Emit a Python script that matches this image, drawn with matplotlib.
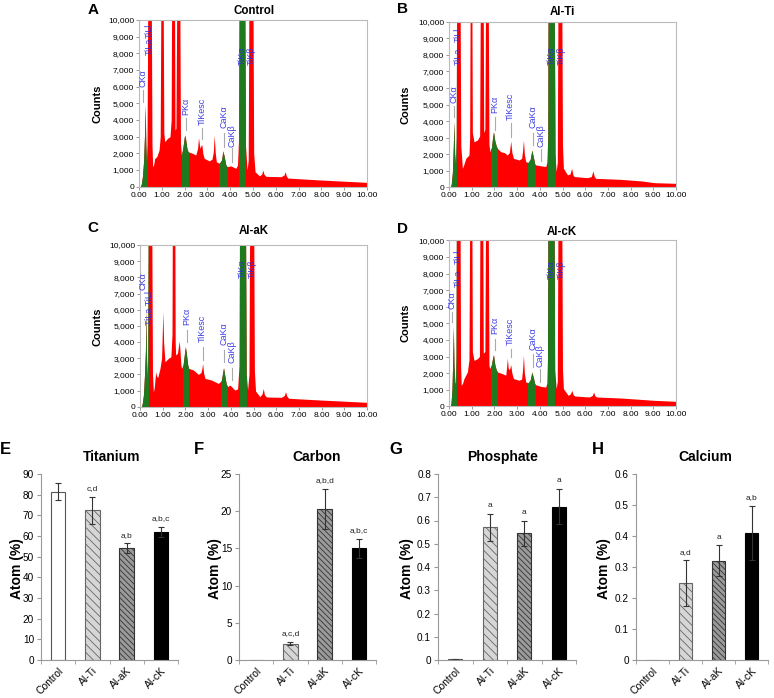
import numpy as np
import matplotlib
matplotlib.use("Agg")
import matplotlib.pyplot as plt
from matplotlib.patches import Rectangle
from matplotlib.ticker import FixedLocator, FuncFormatter

plt.rcParams['font.family'] = ['Liberation Sans', 'DejaVu Sans']
plt.rcParams['hatch.linewidth'] = 0.6

# ---------------- EDS spectra data (keV, counts) ----------------
spec_A = [(0.00,0),(0.05,0),(0.10,150),(0.15,600),(0.20,1500),(0.24,3000),(0.27,4900),(0.30,2500),(0.33,1300),
          (0.36,2500),(0.39,14000),(0.53,14000),(0.57,2500),(0.60,1200),(0.64,1300),(0.69,1700),(0.78,1800),
          (0.88,2200),(0.93,3000),(0.97,14000),(1.05,14000),(1.09,3200),(1.13,2700),(1.25,2900),(1.36,3000),
          (1.41,4000),(1.44,14000),(1.55,14000),(1.58,3400),(1.62,3500),(1.67,14000),(1.78,14000),(1.82,2600),
          (1.86,1900),(1.92,2300),(1.97,2800),(2.00,3100),(2.04,2900),(2.10,2300),(2.15,2100),(2.35,2000),
          (2.49,1900),(2.57,2300),(2.61,2950),(2.65,2500),(2.68,2300),(2.73,2500),(2.76,2500),(2.80,2000),
          (2.86,1700),(3.08,1550),(3.20,1650),(3.26,2100),(3.30,3100),(3.34,2100),(3.39,1500),(3.52,1400),
          (3.62,1600),(3.68,2150),(3.74,1800),(3.80,1350),(3.86,1200),(4.03,1250),(4.25,1100),(4.32,1300),
          (4.37,3000),(4.40,14000),(4.63,14000),(4.67,2500),(4.74,1000),(4.79,1600),(4.83,14000),(4.99,14000),
          (5.03,2000),(5.09,900),(5.28,650),(5.38,750),(5.43,1000),(5.48,750),(5.57,620),(6.23,600),(6.36,700),
          (6.41,900),(6.46,650),(6.52,520),(7.00,480),(7.99,400),(9.00,330),(10.00,260)]
spec_B = [(0.00,0),(0.06,0),(0.10,200),(0.15,900),(0.19,2500),(0.22,3960),(0.25,2000),(0.29,1300),(0.32,3000),
          (0.34,14000),(0.48,14000),(0.52,2500),(0.59,1150),(0.66,1400),(0.74,1750),(0.88,1950),(0.91,3000),
          (0.94,14000),(1.00,14000),(1.03,3300),(1.10,2750),(1.25,2850),(1.35,3100),(1.39,14000),(1.50,14000),
          (1.53,3300),(1.58,3500),(1.62,14000),(1.72,14000),(1.76,2600),(1.80,2150),(1.87,2400),(1.92,3000),
          (1.96,3360),(2.02,2800),(2.08,2500),(2.13,2350),(2.28,2150),(2.43,2100),(2.57,1950),(2.66,2100),
          (2.72,2800),(2.77,2100),(2.84,1750),(3.09,1650),(3.20,1750),(3.24,2200),(3.28,2850),(3.32,2000),
          (3.38,1550),(3.49,1500),(3.58,1700),(3.65,2250),(3.72,1800),(3.78,1400),(3.82,1350),(4.04,1300),
          (4.26,1250),(4.31,1500),(4.35,3000),(4.37,14000),(4.63,14000),(4.67,2000),(4.72,950),(4.77,1500),
          (4.81,14000),(4.96,14000),(5.00,2500),(5.04,1150),(5.22,750),(5.33,800),(5.40,1150),(5.46,750),
          (5.51,650),(6.10,580),(6.27,650),(6.34,990),(6.40,650),(6.47,540),(7.57,480),(8.50,380),(9.04,280),
          (10.00,240)]
spec_C = [(0.00,0),(0.06,0),(0.10,200),(0.15,700),(0.20,2000),(0.24,3500),(0.26,6000),(0.29,3000),(0.32,1600),
          (0.34,3000),(0.37,14000),(0.51,14000),(0.55,2000),(0.59,900),(0.63,1200),(0.69,2160),(0.73,1900),
          (0.78,1800),(0.88,2370),(0.95,3000),(0.99,5000),(1.01,5880),(1.04,4000),(1.10,2780),(1.25,2990),
          (1.36,3090),(1.41,4500),(1.43,14000),(1.53,14000),(1.55,4000),(1.57,3200),(1.65,3300),(1.70,3800),
          (1.73,4060),(1.76,3500),(1.80,2600),(1.83,2370),(1.90,2600),(1.96,3300),(2.00,3710),(2.05,3200),
          (2.10,2600),(2.15,2370),(2.35,2270),(2.57,2000),(2.68,2100),(2.72,2300),(2.76,2680),(2.80,2100),
          (2.86,1750),(3.15,1650),(3.45,1440),(3.58,1600),(3.68,2410),(3.75,1800),(3.80,1400),(3.86,1240),
          (3.96,1340),(4.18,1030),(4.30,1100),(4.36,2500),(4.39,14000),(4.64,14000),(4.68,2000),(4.74,1050),
          (4.80,2000),(4.84,14000),(5.00,14000),(5.04,2200),(5.09,970),(5.28,620),(5.38,800),(5.43,1130),
          (5.48,750),(5.57,600),(6.23,580),(6.36,700),(6.41,930),(6.47,650),(6.55,520),(7.99,410),(9.00,340),
          (10.00,270)]
spec_D = [(0.00,0),(0.05,0),(0.09,200),(0.13,1000),(0.16,2500),(0.19,4820),(0.22,2500),(0.26,1400),(0.29,1400),
          (0.31,3000),(0.33,14000),(0.48,14000),(0.51,2500),(0.54,1260),(0.60,1400),(0.66,1670),(0.81,2070),
          (0.88,2800),(0.92,14000),(1.00,14000),(1.03,3300),(1.10,2770),(1.25,2870),(1.34,3000),(1.37,14000),
          (1.48,14000),(1.51,3200),(1.58,3300),(1.62,14000),(1.72,14000),(1.76,2500),(1.79,2270),(1.87,2500),
          (1.92,2900),(1.96,3110),(2.02,2500),(2.08,2200),(2.13,2070),(2.35,1970),(2.50,1870),(2.54,2400),
          (2.57,2910),(2.61,2300),(2.65,2200),(2.68,2300),(2.72,2510),(2.77,2000),(2.84,1670),(3.09,1570),
          (3.20,1650),(3.24,2200),(3.28,3070),(3.32,2000),(3.38,1470),(3.49,1420),(3.58,1600),(3.65,2070),
          (3.72,1700),(3.78,1350),(3.82,1300),(4.04,1200),(4.26,1160),(4.31,1400),(4.34,3000),(4.36,14000),
          (4.62,14000),(4.66,2200),(4.72,1060),(4.77,1500),(4.81,14000),(4.96,14000),(5.00,2200),(5.04,1060),
          (5.25,660),(5.35,750),(5.41,960),(5.47,700),(5.54,620),(6.18,560),(6.31,650),(6.37,860),(6.43,620),
          (6.51,560),(7.57,500),(9.04,360),(10.00,300)]

# element windows (keV) shown in green
green_A = [(0.07,0.34),(1.88,2.13),(3.52,3.84),(4.37,4.65)]
green_B = [(0.07,0.30),(1.87,2.10),(3.49,3.78),(4.34,4.66)]
green_C = [(0.10,0.34),(1.88,2.13),(3.55,3.84),(4.40,4.66)]
green_D = [(0.07,0.29),(1.87,2.10),(3.49,3.78),(4.34,4.63)]

spec_titles = ["Control", "Al-Ti", "Al-aK", "Al-cK"]
spec_letters = ["A", "B", "C", "D"]

# peak labels: (text, keV, counts of text bottom, marker line (y0,y1) or None)
labels_A = [("CKα",0.18,6000,(5100,5800)),("TiLa",0.44,7900,None),("TiLl",0.44,8950,None),
            ("PKα",2.05,4300,(3400,4100)),("TiKesc",2.76,3700,(2860,3500)),("CaKα",3.74,3500,(2400,3200)),
            ("CaKβ",4.08,2400,(1500,2300)),("TiKα",4.52,7300,None),("TiKβ",4.94,7300,None)]
labels_B = [("CKα",0.22,5070,(4270,4930)),("TiLa",0.40,7380,None),("TiLl",0.40,8790,None),
            ("PKα",2.01,4470,(3460,4270)),("TiKesc",2.72,4060,(3060,3860)),("CaKα",3.72,3560,(2550,3260)),
            ("CaKβ",4.04,2450,(1590,2310)),("TiKα",4.51,7380,None),("TiKβ",4.96,7380,None)]
labels_C = [("CKα",0.15,7220,None),("TiLa TiLl",0.44,5050,None),
            ("PKα",2.05,5050,(4020,4740)),("TiKesc",2.76,4020,(2890,3710)),("CaKα",3.71,3810,(2780,3500)),
            ("CaKβ",4.06,2680,(1650,2370)),("TiKα",4.52,7940,None),("TiKβ",4.96,7940,None)]
labels_D = [("CKα",0.15,5880,(5080,5680)),("TiLa",0.40,7190,None),("TiLl",0.40,8590,None),
            ("PKα",2.01,4380,(3370,4080)),("TiKesc",2.72,3670,(2970,3470)),("CaKα",3.72,3370,(2370,3170)),
            ("CaKβ",4.01,2370,(1470,2230)),("TiKα",4.51,7690,None),("TiKβ",4.96,7690,None)]

# ---------------- bar chart data ----------------
bar_cats = ["Control", "Al-Ti", "Al-aK", "Al-cK"]
ti_mean = [81.5, 72.5, 54.0, 62.0]
ti_err = [4.0, 6.5, 2.4, 2.5]
ti_sig = ["", "c,d", "a,b", "a,b,c"]
c_mean = [0.0, 2.2, 20.3, 15.0]
c_err = [0.0, 0.2, 2.7, 1.3]
c_sig = ["", "a,c,d", "a,b,d", "a,b,c"]
p_mean = [0.004, 0.57, 0.545, 0.66]
p_err = [0.002, 0.06, 0.055, 0.075]
p_sig = ["", "a", "a", "a"]
ca_mean = [0.0, 0.248, 0.32, 0.41]
ca_err = [0.0, 0.073, 0.05, 0.087]
ca_sig = ["", "a,d", "a", "a,b"]

# ---------------- figure ----------------
W, H = 774, 698
fig = plt.figure(figsize=(W/100, H/100), dpi=100)

def add_ax(l, t, r, b):
    return fig.add_axes([l/W, 1 - b/H, (r - l)/W, (b - t)/H])

def ftext(x, y, s, **kw):
    fig.text(x/W, 1 - y/H, s, **kw)

RED = "#ff0000"
GREEN = "#1f7a1f"
LBL = "#2a2ae0"

spec_boxes = [(139, 20, 367, 186.7), (449, 21.7, 676, 187.3),
              (140, 245, 367, 406.7), (449, 240.3, 676, 406.3)]
spec_title_pos = [(254, 11), (562, 12), (254, 231), (562, 232)]
spec_letter_pos = [(93, 10), (402, 9), (93, 228), (402, 229)]
counts_pos = [(97, 104), (405, 105), (97, 327), (405, 323)]

for spec, greens, labs, box, tp, lp, cp, title, letter in zip(
        [spec_A, spec_B, spec_C, spec_D], [green_A, green_B, green_C, green_D],
        [labels_A, labels_B, labels_C, labels_D], spec_boxes, spec_title_pos,
        spec_letter_pos, counts_pos, spec_titles, spec_letters):
    ax = add_ax(*box)
    e, c = np.array(spec, dtype=float).T
    ax.fill_between(e, 0, c, color=RED, lw=0)
    for (g0, g1) in greens:
        poly = ax.fill_between(e, 0, c, color=GREEN, lw=0)
        poly.set_clip_path(Rectangle((g0, 0), g1 - g0, 10000, transform=ax.transData))
    for (s, x, y, ln) in labs:
        ax.text(x, y, s, rotation=90, ha='center', va='bottom', fontsize=6.5, color=LBL, alpha=0.9)
        if ln is not None:
            ax.plot([x, x], ln, color='#aaaaaa', lw=0.8)
    ax.set_xlim(0, 10)
    ax.set_ylim(0, 10000)
    ax.set_xticks(np.arange(0, 11, 1))
    ax.set_yticks(np.arange(0, 10001, 1000))
    ax.xaxis.set_major_formatter(FuncFormatter(lambda v, p: f"{v:.2f}"))
    ax.yaxis.set_major_formatter(FuncFormatter(lambda v, p: f"{int(v):,}"))
    ax.tick_params(labelsize=6, length=2, width=0.6, color='#888888', pad=1.5)
    for sp in ax.spines.values():
        sp.set_color('#bbbbbb')
        sp.set_linewidth(0.8)
    ftext(*tp, title, ha='center', va='center', fontsize=8.3, fontweight='bold')
    ftext(*lp, letter, ha='center', va='center', fontsize=11, fontweight='bold')
    ftext(*cp, "Counts", ha='center', va='center', fontsize=8, fontweight='bold', rotation=90)

# bar panels
bar_boxes = [(41, 474, 178, 660), (239, 474, 376, 660), (438, 474, 576, 660), (636, 474, 768, 660)]
bar_titles = ["Titanium", "Carbon", "Phosphate", "Calcium"]
bar_letters = ["E", "F", "G", "H"]
bar_letter_pos = [(5, 449), (199, 449), (396, 449), (598, 449)]
bar_title_pos = [(112, 457), (317, 457), (503, 457), (705, 457)]
atom_pos = [(17, 569), (215, 569), (407, 569), (604, 569)]
bar_means = [ti_mean, c_mean, p_mean, ca_mean]
bar_errs = [ti_err, c_err, p_err, ca_err]
bar_sigs = [ti_sig, c_sig, p_sig, ca_sig]
ylims = [(90, 10), (25, 5), (0.8, 0.1), (0.6, 0.1)]

faces = ['white', '#d6d6d6', '#9a9a9a', 'black']
edges = ['#555555', '#666666', '#333333', 'black']
hatches = [None, '\\\\\\\\', '\\\\\\\\\\\\', None]

for i in range(4):
    ax = add_ax(*bar_boxes[i])
    x = np.arange(4)
    means = bar_means[i]
    errs = bar_errs[i]
    top, step = ylims[i]
    for j in range(4):
        ax.bar(x[j], means[j], width=0.42, color=faces[j], edgecolor=edges[j],
               hatch=hatches[j], linewidth=0.8)
        if means[j] > 0:
            ax.errorbar(x[j], means[j], yerr=errs[j], color='#333333', capsize=2.5,
                        elinewidth=0.8, capthick=0.8, fmt='none')
        if bar_sigs[i][j]:
            ax.text(x[j], means[j] + errs[j] + top * 0.025, bar_sigs[i][j], ha='center',
                    va='bottom', fontsize=6, color='#222222')
    ax.set_ylim(0, top)
    ax.set_xlim(-0.5, 3.5)
    ticks = np.round(np.arange(0, top + step / 2, step), 3)
    ax.set_yticks(ticks)
    ax.set_yticklabels([("%g" % t) for t in ticks])
    ax.set_xticks(x)
    ax.set_xticklabels(bar_cats, rotation=45, ha='right', rotation_mode='anchor', fontsize=7.5)
    ax.xaxis.set_minor_locator(FixedLocator([-0.5, 0.5, 1.5, 2.5, 3.5]))
    ax.tick_params(axis='x', which='major', length=0, pad=4)
    ax.tick_params(axis='x', which='minor', length=3, color='#999999')
    ax.tick_params(axis='y', labelsize=7.2, length=3, color='#999999', pad=2)
    for s in ['top', 'right']:
        ax.spines[s].set_visible(False)
    for s in ['left', 'bottom']:
        ax.spines[s].set_color('#999999')
        ax.spines[s].set_linewidth(0.8)
    ftext(*bar_letter_pos[i], bar_letters[i], ha='center', va='center', fontsize=12, fontweight='bold')
    ftext(*bar_title_pos[i], bar_titles[i], ha='center', va='center', fontsize=10, fontweight='bold')
    ftext(*atom_pos[i], "Atom (%)", ha='center', va='center', fontsize=10, fontweight='bold', rotation=90)

fig.savefig("out.png", dpi=100)
